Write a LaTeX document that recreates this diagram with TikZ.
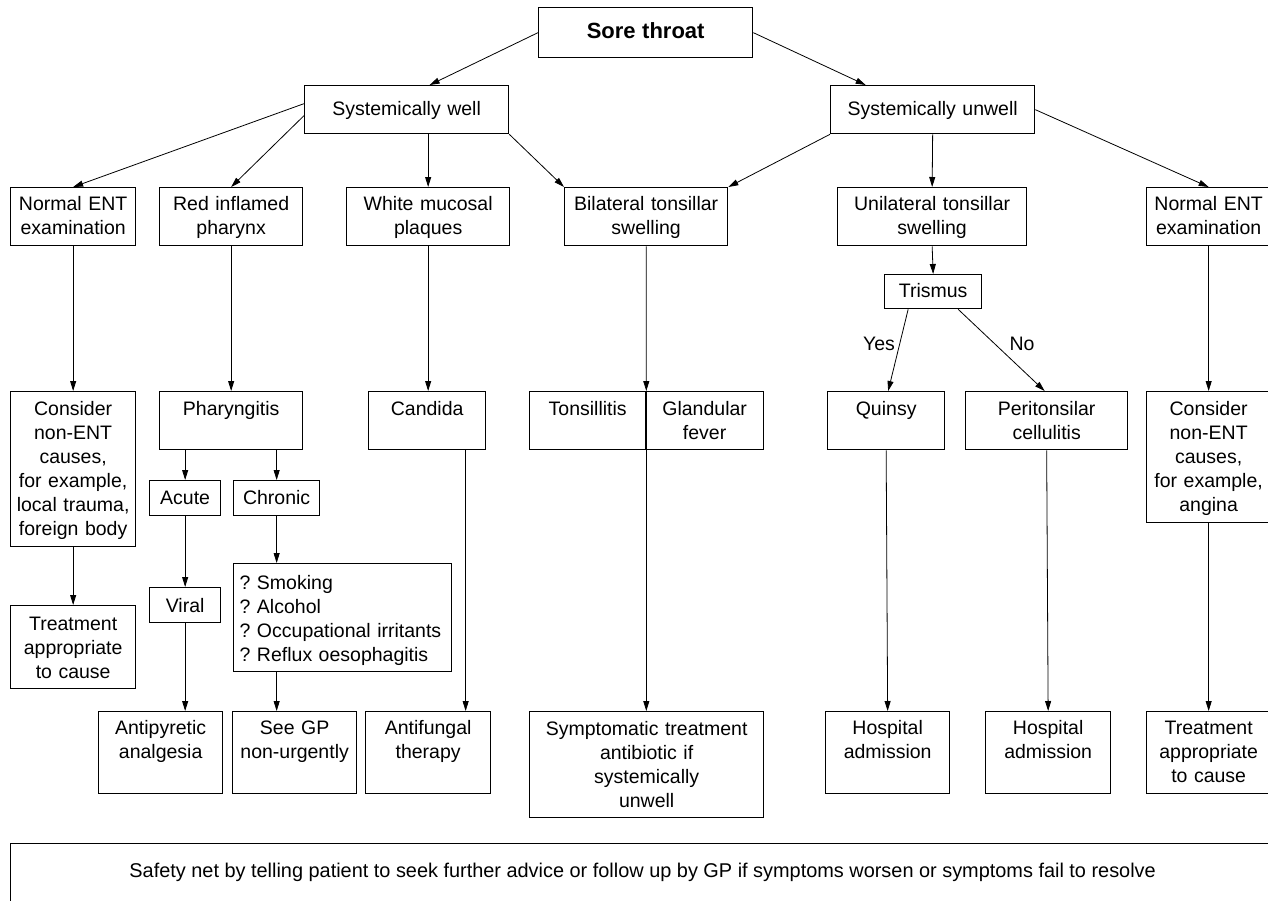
\documentclass[tikz,border=0pt]{standalone}
\usepackage{fontspec}
\setmainfont{Liberation Sans}
\usetikzlibrary{arrows.meta,calc}
\tikzset{
  boxshape/.style={draw, line width=1.3pt, rectangle, inner sep=0pt, anchor=north west},
  txt/.style={inner sep=0pt, align=center, font=\fontsize{19.5}{24}\selectfont\frenchspacing, anchor=base},
  conn/.style={line width=0.8pt, -{Triangle[length=10pt,width=6pt]}},
  plainline/.style={line width=0.8pt},
}
\newcommand\bx[8][]{%
  \node[boxshape, minimum width=#5pt, minimum height=#6pt] (#2) at (#3,#4) {};
  \node[txt, text width=#5pt+40pt, #1] (#2-t) at ($(#2.north)+(0,#7)$) {#8};}
\begin{document}
\begin{tikzpicture}[x=1pt,y=-1pt]
\useasboundingbox (0,0) rectangle (1268,900);
\fill[white] (0,0) rectangle (1268,900);
\clip (0,0) rectangle (1268,900);
% boxes
\bx{sore}{538}{7}{214}{50}{31}{\fontsize{22}{26}\selectfont\bfseries Sore throat}
\bx{swell}{304}{85}{204}{48}{30}{Systemically well}
\bx{sunwell}{830}{85}{204}{48}{30}{Systemically unwell}
\bx{entL}{10}{187}{125}{58}{23}{Normal ENT\\examination}
\bx{red}{159}{187}{143}{58}{23}{Red inflamed\\pharynx}
\bx{white}{346}{187}{163}{58}{23}{White mucosal\\plaques}
\bx{bil}{564}{187}{163}{58}{23}{Bilateral tonsillar\\swelling}
\bx{unil}{837}{187}{189}{58}{23}{Unilateral tonsillar\\swelling}
\bx{entR}{1146}{187}{124}{58}{23}{Normal ENT\\examination}
\bx{trismus}{884}{274}{97}{34}{23}{Trismus}
\bx{consL}{10}{391}{125}{155}{24}{Consider\\non-ENT\\causes,\\for example,\\local trauma,\\foreign body}
\bx{phar}{159}{391}{143}{58}{24}{Pharyngitis}
\bx{cand}{368}{391}{117}{58}{24}{Candida}
\bx{tons}{529}{391}{116}{58}{24}{Tonsillitis}
\bx{gland}{645}{391}{118}{58}{24}{Glandular\\fever}
\bx{quinsy}{827}{391}{117}{58}{24}{Quinsy}
\bx{peri}{965}{391}{162}{58}{24}{Peritonsilar\\cellulitis}
\bx{consR}{1146}{391}{124}{131}{24}{Consider\\non-ENT\\causes,\\for example,\\angina}
\bx{acute}{149}{480}{71}{35}{24}{Acute}
\bx{chronic}{233}{480}{86}{35}{24}{Chronic}
\bx[align=left,text width=206pt]{list}{233}{563}{218}{108}{26}{? Smoking\\? Alcohol\\? Occupational irritants\\? Reflux oesophagitis}
\bx{viral}{149}{587}{71}{35}{25}{Viral}
\bx{treatL}{10}{605}{125}{83}{25}{Treatment\\appropriate\\to cause}
\bx{antip}{98}{711}{124}{82}{23}{Antipyretic\\analgesia}
\bx{seegp}{232}{711}{124}{82}{23}{See GP\\non-urgently}
\bx{antif}{365}{711}{125}{82}{23}{Antifungal\\therapy}
\bx{symp}{529}{711}{234}{106}{24}{Symptomatic treatment\\antibiotic if\\systemically\\unwell}
\bx{hosp1}{825}{711}{124}{82}{23}{Hospital\\admission}
\bx{hosp2}{985}{711}{125}{82}{23}{Hospital\\admission}
\bx{treatR}{1146}{711}{124}{82}{23}{Treatment\\appropriate\\to cause}
\node[boxshape, minimum width=1270pt, minimum height=80pt] (safety) at (10,843) {};
\node[txt, font=\fontsize{19.9}{24}\selectfont] (safety-t) at ($(safety.north)+(-3,34)$) {Safety net by telling patient to seek further advice or follow up by GP if symptoms worsen or symptoms fail to resolve};
% labels
\node[txt] (yes) at (879,350) {Yes};
\node[txt] (no) at (1022,350) {No};
% connectors
\draw[conn] (sore.west) -- ($(swell.north)+(23,0)$);
\draw[conn] (sore.east) -- ($(sunwell.north)+(-67,0)$);
\draw[conn] ($(swell.west)+(0,-6)$) -- (entL.north);
\draw[conn] ($(swell.west)+(0,6)$) -- (red.north);
\draw[conn] (white.north |- swell.south) -- (white.north);
\draw[conn] (swell.south east) -- (bil.north west);
\draw[conn] (sunwell.south west) -- (bil.north east);
\draw[conn] (sunwell.south) -- (unil.north);
\draw[conn] (sunwell.east) -- (entR.north);
\draw[conn] (entL.south) -- (consL.north);
\draw[conn] (red.south) -- (phar.north);
\draw[conn] (white.south) -- (white.south |- cand.north);
\draw[conn] (bil.south) -- (tons.north east);
\draw[plainline] (tons.north east) -- (tons.south east);
\draw[conn] (tons.south east) -- (tons.south east |- symp.north);
\draw[conn] (unil.south) -- (trismus.north);
\draw[conn] (entR.south) -- (consR.north);
\draw[conn] ($(trismus.south)+(-25,0)$) -- ($(quinsy.north)+(2,0)$);
\draw[conn] ($(trismus.south)+(25,0)$) -- ($(peri.north)+(-2,0)$);
\draw[conn] (acute.north |- phar.south) -- (acute.north);
\draw[conn] (chronic.north |- phar.south) -- (chronic.north);
\draw[conn] (chronic.south) -- (chronic.south |- list.north);
\draw[conn] (acute.south) -- (viral.north);
\draw[conn] (viral.south) -- (viral.south |- antip.north);
\draw[conn] (chronic.south |- list.south) -- (chronic.south |- seegp.north);
\draw[conn] ($(cand.south)+(38.5,0)$) -- ($(antif.north)+(37.5,0)$);
\draw[conn] (consL.south) -- (treatL.north);
\draw[conn] (quinsy.south) -- (hosp1.north);
\draw[conn] (peri.south) -- (hosp2.north);
\draw[conn] (consR.south) -- (treatR.north);
\end{tikzpicture}
\end{document}
